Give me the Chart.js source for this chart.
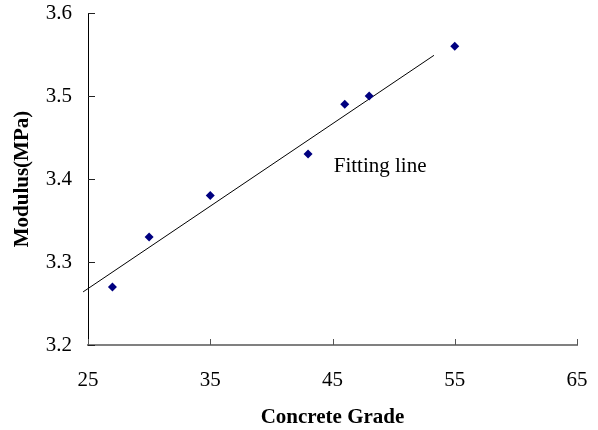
<!DOCTYPE html>
<html>
<head>
<meta charset="utf-8">
<script src="https://cdn.jsdelivr.net/npm/chart.js@4"></script>
<style>
  body { margin: 0; background: #fff; }
  #wrap { width: 598px; height: 430px; }
</style>
</head>
<body>
<div id="wrap"><canvas id="myChart"></canvas></div>
<script>
// measured points
const grade = [27, 30, 35, 43, 46, 48, 55]
const modulus = [3.27, 3.33, 3.38, 3.43, 3.49, 3.50, 3.56]
// ends of the fitting line
const fitX = [24.6, 53.3]
const fitY = [3.264, 3.549]
const xTicks = [25, 35, 45, 55, 65]
const yTicks = [3.2, 3.3, 3.4, 3.5, 3.6]
const fitLabel = "Fitting line"
const fitLabelAt = [45.1, 3.408]

const serif = "'Liberation Serif', 'Times New Roman', serif"

// little inside tick marks + the text label
const extras = {
    id: 'extras',
    afterDatasetsDraw(chart) {
        const ctx = chart.ctx
        const x = chart.scales.x, y = chart.scales.y
        const area = chart.chartArea
        ctx.save()
        ctx.lineWidth = 1
        ctx.strokeStyle = '#555'
        xTicks.forEach(v => {
            let px = Math.round(x.getPixelForValue(v)) + 0.5
            ctx.beginPath()
            ctx.moveTo(px, area.bottom)
            ctx.lineTo(px, area.bottom - 6)
            ctx.stroke()
        })
        ctx.strokeStyle = '#222'
        yTicks.forEach(v => {
            let py = Math.round(y.getPixelForValue(v)) + 0.5
            ctx.beginPath()
            ctx.moveTo(area.left, py)
            ctx.lineTo(area.left + 7, py)
            ctx.stroke()
        })
        ctx.fillStyle = '#000'
        ctx.font = "21px " + serif
        ctx.textBaseline = 'alphabetic'
        ctx.fillText(fitLabel, x.getPixelForValue(fitLabelAt[0]), y.getPixelForValue(fitLabelAt[1]))
        ctx.restore()
    }
}

new Chart("myChart", {
    type: "scatter",
    data: {
        datasets: [{
            label: "Modulus",
            data: grade.map((g, i) => ({ x: g, y: modulus[i] })),
            pointStyle: 'rectRot',
            pointRadius: 4.5,
            backgroundColor: '#000080',
            borderColor: '#000080',
            borderWidth: 0
        }, {
            label: "Fit",
            type: "line",
            data: fitX.map((v, i) => ({ x: v, y: fitY[i] })),
            borderColor: '#000',
            borderWidth: 1,
            pointRadius: 0,
            fill: false,
            clip: false
        }]
    },
    options: {
        responsive: true,
        maintainAspectRatio: false,
        animation: false,
        layout: { padding: { left: 0, right: 21, top: 13, bottom: 0 } },
        plugins: {
            legend: { display: false },
            tooltip: { enabled: false }
        },
        scales: {
            x: {
                type: 'linear',
                min: 25,
                max: 65,
                afterBuildTicks: s => { s.ticks = xTicks.map(v => ({ value: v })) },
                afterFit: s => { s.height = 85; s.paddingLeft = 0; s.paddingRight = 0 },
                grid: { display: false, drawTicks: false },
                border: { display: true, color: '#808080', width: 2 },
                ticks: { color: '#000', font: { family: serif, size: 21 }, padding: 23 },
                title: {
                    display: true,
                    text: 'Concrete Grade',
                    color: '#000',
                    font: { family: serif, size: 21, weight: 'bold' },
                    padding: { top: 0, bottom: 0 }
                }
            },
            y: {
                type: 'linear',
                min: 3.2,
                max: 3.6,
                afterBuildTicks: s => { s.ticks = yTicks.map(v => ({ value: v })) },
                afterFit: s => { s.width = 88; s.paddingTop = 0; s.paddingBottom = 0 },
                grid: { display: false, drawTicks: false },
                border: { display: true, color: '#000', width: 1 },
                ticks: {
                    color: '#000',
                    font: { family: serif, size: 21 },
                    padding: 16,
                    callback: v => v.toFixed(1)
                },
                title: {
                    display: true,
                    text: 'Modulus(MPa)',
                    color: '#000',
                    font: { family: serif, size: 21, weight: 'bold' },
                    padding: { top: 10, bottom: 0 }
                }
            }
        }
    },
    plugins: [extras]
});
</script>
</body>
</html>
